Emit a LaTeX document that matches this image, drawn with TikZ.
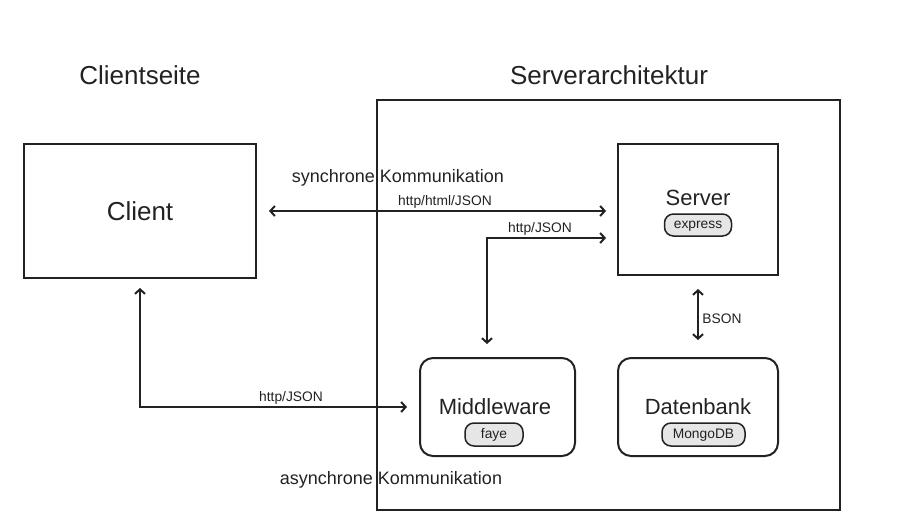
\documentclass[tikz,border=0pt]{standalone}
\usepackage{fontspec}
\setmainfont{Liberation Sans}
\usetikzlibrary{arrows.meta,calc}
\definecolor{ink}{HTML}{222222}
\definecolor{pillgray}{HTML}{E6E6E6}
\tikzset{
  sharpbox/.style={draw=ink, line width=2pt, inner sep=0pt},
  roundbox/.style={draw=ink, line width=2pt, rounded corners=13pt, inner sep=0pt},
  pill/.style={draw=ink, line width=1.5pt, fill=pillgray, rounded corners=9pt, inner sep=0pt, text height=7.2pt, text depth=0pt, font=\fontsize{13.8}{16}\selectfont, text=ink},
  title/.style={font=\fontsize{26}{30}\selectfont, text=ink},
  boxtext/.style={font=\fontsize{22}{26}\selectfont, text=ink},
  comm/.style={font=\fontsize{18}{21}\selectfont, text=ink},
  small/.style={font=\fontsize{13.8}{16}\selectfont, text=ink},
  conn/.style={draw=ink, line width=2pt, {Straight Barb[length=4.5pt,width=10pt]}-{Straight Barb[length=4.5pt,width=10pt]}},
}
\begin{document}
\begin{tikzpicture}[x=1pt,y=-1pt]
\useasboundingbox (0,0) rectangle (898,520);
% frames
\node[sharpbox, minimum width=463pt, minimum height=410pt] (arch) at (608.5,305) {};
\node[sharpbox, minimum width=232pt, minimum height=134pt] (client) at (140,211) {};
\node[sharpbox, minimum width=160pt, minimum height=131pt] (server) at (698,209.5) {};
\node[roundbox, minimum width=155pt, minimum height=98pt] (mw) at (497.5,407) {};
\node[roundbox, minimum width=160pt, minimum height=98pt] (db) at (698,407) {};
% titles
\node[title] (tclient) at (140,75) {Clientseite};
\node[title] (tserver) at (609,75) {Serverarchitektur};
% box texts
\node[title] (lclient) at (140,211) {Client};
\node[boxtext] (lserver) at (698,198) {Server};
\node[pill, minimum width=67pt, minimum height=22pt] (pexpress) at (698,225) {express};
\node[boxtext] (lmw) at (495,407) {Middleware};
\node[pill, minimum width=58pt, minimum height=23pt] (pfaye) at (494,434.5) {faye};
\node[boxtext] (ldb) at (698,407) {Datenbank};
\node[pill, minimum width=83pt, minimum height=23pt] (pmongo) at (703.5,434.5) {MongoDB};
% communication labels
\node[comm] (sync) at (398,178) {synchrone Kommunikation};
\node[comm] (async) at (391,480) {asynchrone Kommunikation};
% connectors
\draw[conn, shorten <=12pt, shorten >=11pt] (client.east) -- (client.east -| server.west);
\node[small] (l1) at (445,202) {http/html/JSON};
\draw[conn, shorten <=13pt, shorten >=11pt] ($(mw.north)+(-10.5,0)$) |- ($(server.west)+(0,28.5)$);
\node[small] (l2) at (540,229) {http/JSON};
\draw[conn, shorten <=9pt, shorten >=12pt] (client.south) |- (mw.west);
\node[small] (l3) at (291,398) {http/JSON};
\draw[conn, shorten <=13pt, shorten >=17pt] (server.south) -- (db.north);
\node[small] (l4) at (722,319) {BSON};
\end{tikzpicture}
\end{document}
